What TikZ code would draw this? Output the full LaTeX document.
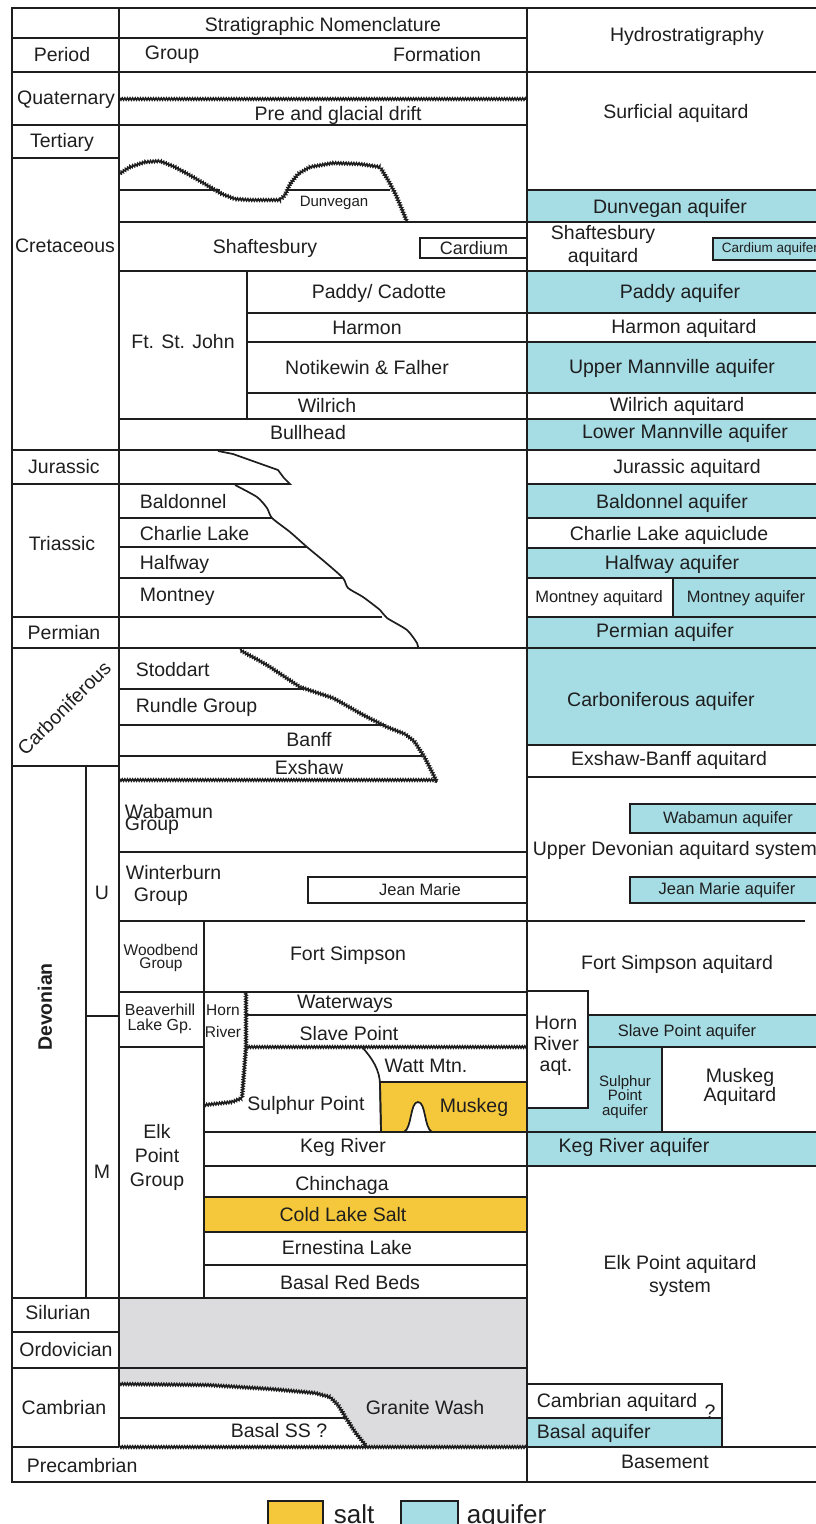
\documentclass[tikz,border=0pt]{standalone}
\usepackage{fontspec}
\setmainfont{Liberation Sans}
\usetikzlibrary{decorations.pathmorphing}

\definecolor{aquablue}{HTML}{A6DCE4}
\definecolor{saltgold}{HTML}{F5C83C}
\definecolor{gapgray}{HTML}{DCDCDE}
\definecolor{inkline}{HTML}{1E1E1E}

\begin{document}
\begin{tikzpicture}[
    x=1pt, y=-1pt,
    line width=1.7pt, color=inkline,
    every node/.style={inner sep=0pt},
    lbl/.style={font=\fontsize{19.5}{20}\selectfont},
    lblm/.style={font=\fontsize{16.5}{15}\selectfont, align=center},
    lbls/.style={font=\fontsize{15}{14}\selectfont, align=center},
    aqf/.style={draw=inkline, fill=aquablue},
    saltbed/.style={draw=inkline, fill=saltgold},
    erosion/.style={line width=1.6pt, decorate, decoration={zigzag, segment length=2.6pt, amplitude=1.1pt}}
]
\useasboundingbox (0,0) rectangle (816,1524);

% Filled units: hiatus, salt
\fill[gapgray] (119,1298) rectangle (527,1447);
\fill[white] plot coordinates {(119,1384) (208,1385) (271,1389) (315,1393) (330,1397) (338,1405) (346,1418) (355,1432) (367,1447)} -- (119,1447) -- cycle;
\draw[saltbed] (204,1197) rectangle (527,1232);
\draw[saltbed] (380,1082) -- (527,1082) -- (527,1132) -- (432,1132)
    .. controls (424,1128) and (426,1102) .. (418,1102)
    .. controls (410,1102) and (412,1128) .. (404,1132) -- (381,1132) -- cycle;

% Aquifers
\draw[aqf] (527,190) rectangle (830,222);
\draw[aqf] (713,238) rectangle (830,260);
\draw[aqf] (527,271) rectangle (830,313);
\draw[aqf] (527,342) rectangle (830,393);
\draw[aqf] (527,419) rectangle (830,450);
\draw[aqf] (527,484) rectangle (830,518);
\draw[aqf] (527,548) rectangle (830,578);
\draw[aqf] (673,578) rectangle (830,617);
\draw[aqf] (527,617) rectangle (830,648);
\draw[aqf] (527,648) rectangle (830,745);
\draw[aqf] (630,804) rectangle (830,833);
\draw[aqf] (630,877) rectangle (830,903);
\draw[aqf] (588,1015) rectangle (830,1047);
\draw[aqf] (527,1108) -- (588,1108) -- (588,1047) -- (662,1047) -- (662,1132) -- (527,1132) -- cycle;
\draw[aqf] (527,1132) rectangle (830,1166);
\draw[aqf] (527,1418) rectangle (722,1447);

% Lenses and boxed aquitards
\draw (420,238) rectangle (527,258);
\draw (308,877) rectangle (527,903);
\draw (527,991) -- (588,991) -- (588,1108);
\draw (527,1384) -- (722,1384) -- (722,1418);

% Frame and columns
\draw (816,8) -- (12,8) -- (12,1482) -- (816,1482);
\draw (119,8) -- (119,1447);
\draw (527,8) -- (527,1482);
\draw (86,766) -- (86,1298);
\draw (86,1016) -- (119,1016);
\draw (247,271) -- (247,419);
\draw (204,921) -- (204,1298);
\draw (673,578) -- (673,617);

% Horizontal rules
\foreach \y in {72,450,648} \draw (12,\y) -- (816,\y);
\foreach \y in {38,125,1298,1368} \draw (12,\y) -- (527,\y);
\foreach \y in {158,766,1332,1447} \draw (12,\y) -- (119,\y);
\foreach \y in {222,271,419} \draw (119,\y) -- (816,\y);
\foreach \y in {313,342,393} \draw (247,\y) -- (816,\y);
\foreach \y in {190,484,518,548,578,617,745,777,1447} \draw (527,\y) -- (816,\y);
\foreach \y in {852,992} \draw (119,\y) -- (527,\y);
\foreach \y in {1166,1265} \draw (204,\y) -- (527,\y);
\draw (119,921) -- (805,921);
\draw (119,1047) -- (204,1047);
\draw (246,1015) -- (527,1015);
\draw (12,617) -- (382,617);
\draw (119,518) -- (272,518);
\draw (119,547) -- (307,547);
\draw (119,578) -- (343,578);
\draw (119,689) -- (303,689);
\draw (119,725) -- (385,725);
\draw (119,756) -- (422,756);
\draw (119,1418) -- (345,1418);
\draw (119,190) -- (220,190);
\draw (287,190) -- (390,190);

% Unconformities and pinch-outs
\draw[erosion] (119,99) -- (527,99);
\draw[erosion] plot coordinates {(119,174) (130,167) (145,162) (160,161) (175,167) (193,177) (210,187) (222,194) (235,199) (250,200) (280,200) (285,195) (290,184) (298,174) (310,167) (333,163) (360,164) (380,167) (388,180) (395,193) (401,207) (407,222)};
\draw (218,451) -- (233,454) -- (278,470) -- (284,478) -- (290,484) -- (12,484);
\draw plot[smooth, tension=0.4] coordinates {(235,485) (257,497) (267,508) (272,518) (290,532) (307,547) (325,562) (343,578) (348,588) (363,597) (380,610) (387,618) (407,630) (417,643) (418,648)};
\draw[erosion] plot coordinates {(240,650) (267,665) (300,687) (333,698) (367,717) (387,727) (405,734) (414,741) (420,750) (425,758) (431,770) (437,782)};
\draw[erosion] (119,780) -- (437,780);
\draw[erosion] (246,992) -- (246,1047) -- (242,1098) -- (232,1102) -- (204,1105);
\draw[erosion] (246,1047) -- (527,1047);
\draw (362,1047) .. controls (372,1058) and (380,1070) .. (380,1085) -- (381,1132);
\draw (204,1132) -- (527,1132);
\draw[erosion] plot coordinates {(119,1384) (208,1385) (271,1389) (315,1393) (330,1397) (338,1405) (346,1418) (355,1432) (367,1447)};
\draw[erosion] (119,1447) -- (527,1447);

% Header
\node[lbl] (stratnom) at (323,26) {Stratigraphic Nomenclature};
\node[lbl] (hdrperiod) at (62,55) {Period};
\node[lbl] (hdrgroup) at (172,55) {Group};
\node[lbl] (hdrformation) at (437,55) {Formation};
\node[lbl] (hdrhydro) at (687,36) {Hydrostratigraphy};

% Periods
\node[lbl] (quaternary) at (66,100) {Quaternary};
\node[lbl] (tertiary) at (62,142) {Tertiary};
\node[lbl] (cretaceous) at (65,246) {Cretaceous};
\node[lbl] (jurassic) at (64,467) {Jurassic};
\node[lbl] (triassic) at (62,544) {Triassic};
\node[lbl] (permian) at (64,633) {Permian};
\node[lbl, rotate=45] (carboniferous) at (64,708) {Carboniferous};
\node[lbl, font=\fontsize{19.5}{20}\selectfont\bfseries, rotate=90] (devonian) at (45,1007) {Devonian};
\node[lbl] (devupper) at (102,893) {U};
\node[lbl] (devmiddle) at (102,1172) {M};
\node[lbl] (silurian) at (58,1313) {Silurian};
\node[lbl] (ordovician) at (66,1350) {Ordovician};
\node[lbl] (cambrian) at (64,1408) {Cambrian};
\node[lbl, anchor=west] (precambrian) at (26,1466) {Precambrian};

% Groups and formations
\node[lbl] (drift) at (338,115) {Pre and glacial drift};
\node[lbls] (dunvegan) at (334,203) {Dunvegan};
\node[lbl] (shaftesbury) at (265,248) {Shaftesbury};
\node[font=\fontsize{18}{18}\selectfont] (cardium) at (474,248) {Cardium};
\node[lbl] (ftstjohn) at (183,342) {Ft. St. John};
\node[lbl] (paddy) at (379,293) {Paddy/ Cadotte};
\node[lbl] (harmon) at (367,328) {Harmon};
\node[lbl] (notikewin) at (367,368) {Notikewin \& Falher};
\node[lbl] (wilrich) at (327,406) {Wilrich};
\node[lbl] (bullhead) at (308,433) {Bullhead};
\node[lbl, anchor=west] (baldonnel) at (139,502) {Baldonnel};
\node[lbl, anchor=west] (charlie) at (139,534) {Charlie Lake};
\node[lbl, anchor=west] (halfway) at (139,564) {Halfway};
\node[lbl, anchor=west] (montney) at (139,597) {Montney};
\node[lbl, anchor=west] (stoddart) at (135,670) {Stoddart};
\node[lbl, anchor=west] (rundle) at (135,707) {Rundle Group};
\node[lbl] (banff) at (309,740) {Banff};
\node[lbl] (exshaw) at (309,768) {Exshaw};
\node[lbl, anchor=west] (wabamun) at (124,812) {Wabamun};
\node[lbl, anchor=west] (wabamungp) at (124,826) {Group};
\node[lbl, anchor=west] (winterburn) at (125,873) {Winterburn};
\node[lbl, anchor=west] (winterburngp) at (133,897) {Group};
\node[lblm] (jeanmarie) at (420,890) {Jean Marie};
\node[lbls, font=\fontsize{15.5}{13}\selectfont] (woodbend) at (161,958) {Woodbend\\Group};
\node[lbl] (fortsimpson) at (348,955) {Fort Simpson};
\node[lbls, font=\fontsize{16}{15}\selectfont] (beaverhill) at (160,1019) {Beaverhill\\Lake Gp.};
\node[lbls, font=\fontsize{15.5}{22}\selectfont] (hornriver) at (223,1021) {Horn\\River};
\node[lbl] (waterways) at (345,1004) {Waterways};
\node[lbl] (slavepoint) at (349,1034) {Slave Point};
\node[lbl] (wattmtn) at (426,1066) {Watt Mtn.};
\node[lbl] (sulphur) at (306,1105) {Sulphur Point};
\node[lbl] (muskeg) at (474,1107) {Muskeg};
\node[lbl, align=center, font=\fontsize{19.5}{24}\selectfont] (elkpoint) at (157,1157) {Elk\\Point\\Group};
\node[lbl] (kegriver) at (343,1147) {Keg River};
\node[lbl] (chinchaga) at (342,1185) {Chinchaga};
\node[lbl] (coldlake) at (343,1215) {Cold Lake Salt};
\node[lbl] (ernestina) at (347,1248) {Ernestina Lake};
\node[lbl] (redbeds) at (350,1283) {Basal Red Beds};
\node[lbl] (granitewash) at (425,1408) {Granite Wash};
\node[lbl] (basalss) at (279,1431) {Basal SS ?};

% Hydrostratigraphy
\node[lbl] (surficial) at (676,113) {Surficial aquitard};
\node[lbl] (dunveganaq) at (670,208) {Dunvegan aquifer};
\node[lbl, align=center, font=\fontsize{19.5}{23}\selectfont] (shaftaqt) at (603,246) {Shaftesbury\\aquitard};
\node[font=\fontsize{13.5}{13}\selectfont, anchor=west] (cardiumaq) at (721,249) {Cardium aquifer};
\node[lbl] (paddyaq) at (680,293) {Paddy aquifer};
\node[lbl] (harmonaqt) at (684,328) {Harmon aquitard};
\node[lbl] (uppermann) at (672,368) {Upper Mannville aquifer};
\node[lbl] (wilrichaqt) at (677,406) {Wilrich aquitard};
\node[lbl] (lowermann) at (685,433) {Lower Mannville aquifer};
\node[lbl] (jurassicaqt) at (687,468) {Jurassic aquitard};
\node[lbl] (baldonnelaq) at (672,503) {Baldonnel aquifer};
\node[lbl] (charlieaqc) at (669,535) {Charlie Lake aquiclude};
\node[lbl] (halfwayaq) at (672,564) {Halfway aquifer};
\node[lblm] (montneyaqt) at (599,598) {Montney aquitard};
\node[lblm] (montneyaq) at (746,598) {Montney aquifer};
\node[lbl] (permianaq) at (665,632) {Permian aquifer};
\node[lbl] (carbaq) at (661,701) {Carboniferous aquifer};
\node[lbl] (exshawaqt) at (669,760) {Exshaw-Banff aquitard};
\node[lblm] (wabamunaq) at (728,819) {Wabamun aquifer};
\node[lbl, anchor=west] (updevaqt) at (532,850) {Upper Devonian aquitard system};
\node[lblm] (jeanmarieaq) at (727,890) {Jean Marie aquifer};
\node[lbl] (fortsimpsonaqt) at (677,964) {Fort Simpson aquitard};
\node[lbl, align=center, font=\fontsize{19.5}{21}\selectfont] (hornaqt) at (556,1046) {Horn\\River\\aqt.};
\node[lblm] (slavepointaq) at (687,1032) {Slave Point aquifer};
\node[lbls, font=\fontsize{15}{14.5}\selectfont] (sulphuraq) at (625,1097) {Sulphur\\Point\\aquifer};
\node[lbl, align=center, font=\fontsize{19.5}{19}\selectfont] (muskegaqt) at (740,1087) {Muskeg\\Aquitard};
\node[lbl] (kegriveraq) at (634,1147) {Keg River aquifer};
\node[lbl, align=center, font=\fontsize{19.5}{23}\selectfont] (elkpointaqt) at (680,1276) {Elk Point aquitard\\system};
\node[lbl, anchor=west] (cambrianaqt) at (536,1402) {Cambrian aquitard};
\node[lbl] (cambrianq) at (710,1412) {?};
\node[lbl, anchor=west] (basalaq) at (536,1433) {Basal aquifer};
\node[lbl] (basement) at (665,1462) {Basement};

% Legend
\draw[saltbed] (268,1501) rectangle (323,1540);
\node[font=\fontsize{26}{28}\selectfont, anchor=base west] (saltkey) at (333,1523) {salt};
\draw[aqf] (401,1501) rectangle (458,1540);
\node[font=\fontsize{26}{28}\selectfont, anchor=base west] (aquiferkey) at (466,1523) {aquifer};

\end{tikzpicture}
\end{document}
